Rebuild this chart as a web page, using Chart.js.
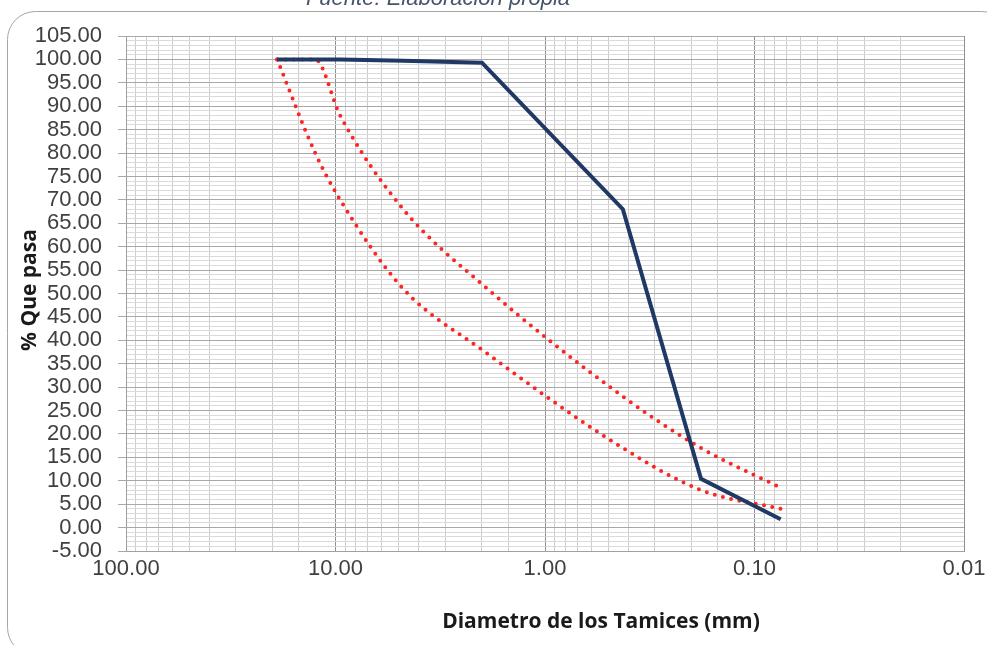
<!DOCTYPE html>
<html>
<head>
<meta charset="utf-8">
<script src="https://cdn.jsdelivr.net/npm/chart.js@4.4.1/dist/chart.umd.min.js"></script>
<style>
html, body { margin: 0; padding: 0; background: #fff; }
#caja { position: relative; width: 987px; height: 645px; }
</style>
</head>
<body>
<div id="caja"><canvas id="curva" width="987" height="645"></canvas></div>
<script>
// abertura de tamices (mm) y % que pasa
const tamices = [19.0, 12.5, 9.5, 4.75, 2.0, 0.425, 0.18, 0.075];
const pasaMuestra = [100, 100, 100, 99.7, 99.3, 68.0, 10.4, 1.8];
const limiteSuperior = [100, 100, 88, 68, 52, 28, 17, 8.5];
const limiteInferior = [100, 80, 70, 51, 38, 17, 8, 4];
const etiquetasX = [100, 10, 1, 0.1, 0.01];

const tituloX = "Diametro de los Tamices (mm)";
const tituloY = "% Que pasa";
const fuente = "Fuente: Elaboración propia";

const puntos = (ys) => tamices.map((t, i) => ({ x: t, y: ys[i] }));
const esDecada = (v) => {
    const l = Math.log10(v);
    return Math.abs(l - Math.round(l)) < 1e-6;
};

const decoracion = {
    id: "decoracion",
    beforeDraw(chart) {
        const ctx = chart.ctx;
        ctx.save();
        ctx.fillStyle = "#fff";
        ctx.fillRect(0, 0, chart.width, chart.height);
        ctx.strokeStyle = "#a6a6a6";
        ctx.lineWidth = 1;
        ctx.beginPath();
        ctx.roundRect(7.5, 11.5, 1002, 644, 28);
        ctx.stroke();
        ctx.restore();
    },
    afterDraw(chart) {
        const ctx = chart.ctx;
        ctx.save();
        ctx.fillStyle = "#44546a";
        ctx.font = "italic 22px 'Liberation Sans'";
        ctx.textAlign = "center";
        ctx.textBaseline = "alphabetic";
        ctx.fillText(fuente, 438, 5);

        ctx.fillStyle = "#1a1a1a";
        ctx.font = "bold 21px 'Open Sans'";
        ctx.textBaseline = "middle";
        ctx.fillText(tituloX, 601, 622);

        ctx.translate(30, 290);
        ctx.rotate(-Math.PI / 2);
        ctx.fillText(tituloY, 0, 0);
        ctx.restore();
    }
};

new Chart(document.getElementById("curva"), {
    type: "line",
    data: {
        datasets: [{
            label: "Muestra",
            data: puntos(pasaMuestra),
            borderColor: "#1f3864",
            borderWidth: 4,
            pointRadius: 0,
            tension: 0
        }, {
            label: "Límite superior",
            data: puntos(limiteSuperior),
            borderColor: "#ff2424",
            borderWidth: 4,
            borderDash: [0, 8.4],
            borderCapStyle: "round",
            cubicInterpolationMode: "monotone",
            pointRadius: 0
        }, {
            label: "Límite inferior",
            data: puntos(limiteInferior),
            borderColor: "#ff2424",
            borderWidth: 4,
            borderDash: [0, 8.4],
            borderCapStyle: "round",
            cubicInterpolationMode: "monotone",
            pointRadius: 0
        }]
    },
    options: {
        responsive: false,
        animation: false,
        devicePixelRatio: 1,
        layout: { padding: { left: 0, right: 23, top: 36, bottom: 0 } },
        plugins: {
            legend: { display: false },
            tooltip: { enabled: false }
        },
        scales: {
            x: {
                type: "logarithmic",
                reverse: true,
                min: 0.01,
                max: 100,
                afterFit: (s) => { s.height = 94; s.paddingLeft = 0; s.paddingRight = 0; },
                border: { color: "#a0a0a0" },
                grid: {
                    drawTicks: false,
                    color: (c) => esDecada(c.tick.value) ? "#8f8f8f" : "#cdcdcd"
                },
                ticks: {
                    autoSkip: false,
                    maxRotation: 0,
                    padding: 5,
                    color: "#404040",
                    font: { family: "'Liberation Sans'", size: 22 },
                    callback: (v) => etiquetasX.some(e => Math.abs(e - v) < 1e-9) ? v.toFixed(2) : ""
                }
            },
            y: {
                type: "linear",
                min: -5,
                max: 105,
                afterFit: (s) => { s.width = 126; },
                border: { color: "#a0a0a0" },
                grid: {
                    tickLength: 8,
                    color: (c) => c.tick.value % 5 === 0 ? "#a8a8a8" : "#dadada",
                    tickColor: (c) => c.tick.value % 5 === 0 ? "#a8a8a8" : "rgba(0,0,0,0)"
                },
                ticks: {
                    stepSize: 1,
                    autoSkip: false,
                    padding: 16,
                    color: "#404040",
                    font: { family: "'Liberation Sans'", size: 22 },
                    callback: (v) => v % 5 === 0 ? v.toFixed(2) : ""
                }
            }
        }
    },
    plugins: [decoracion]
});
</script>
</body>
</html>
